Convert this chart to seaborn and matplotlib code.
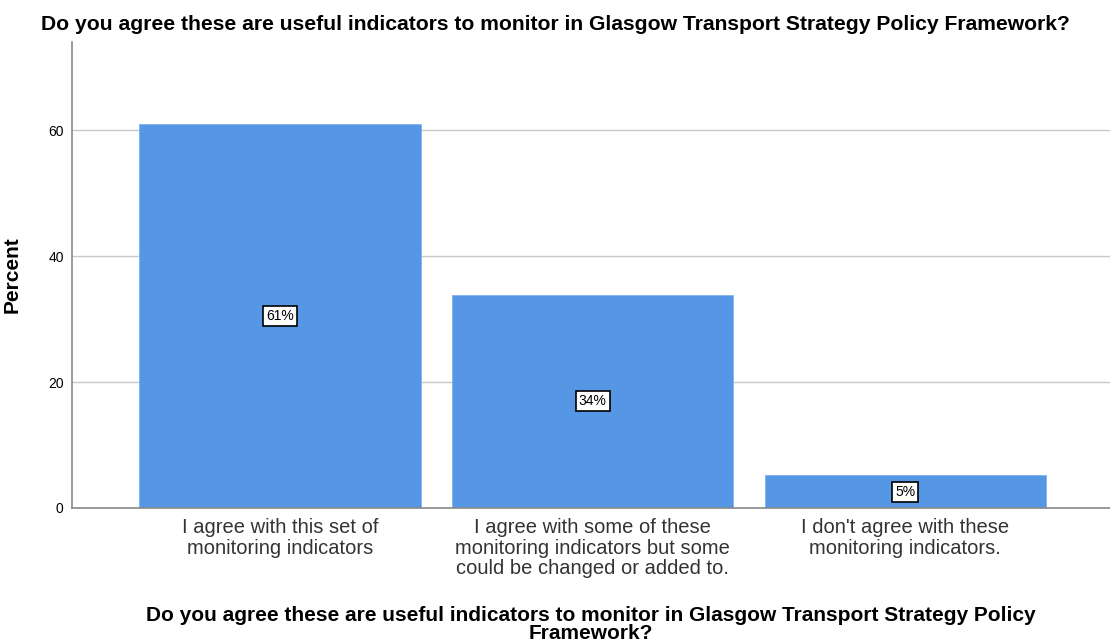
import pandas as pd
import matplotlib
matplotlib.use("Agg")
import matplotlib.pyplot as plt
import seaborn as sns

# Survey responses (percent)
categories = [
    "I agree with this set of\nmonitoring indicators",
    "I agree with some of these\nmonitoring indicators but some\ncould be changed or added to.",
    "I don't agree with these\nmonitoring indicators.",
]
percents = [60.9, 33.9, 5.2]
bar_labels = ["61%", "34%", "5%"]
yticks = [0, 20, 40, 60]

question = "Do you agree these are useful indicators to monitor in Glasgow Transport Strategy Policy Framework?"

df = pd.DataFrame({"answer": categories, "percent": percents})

sns.set_style("white")
plt.rcParams['font.family'] = ['Liberation Sans', 'DejaVu Sans']

fig = plt.figure(figsize=(11.1, 6.44), dpi=100)
ax = fig.add_axes([0.0649, 0.2112, 0.9351, 0.7236])

ax.set_axisbelow(True)
ax.yaxis.grid(True, color="#c8c8c8", linewidth=1)
sns.barplot(data=df, x="answer", y="percent", color="#5596e5", width=0.9,
            saturation=1, ax=ax, edgecolor="#7fb0ee", linewidth=0.6)

# boxed percentage labels at mid height of each bar
for i, (v, lab) in enumerate(zip(percents, bar_labels)):
    ax.text(i, v / 2, lab, ha="center", va="center", fontsize=10, color="black",
            bbox=dict(boxstyle="square,pad=0.22", fc="white", ec="black", lw=1.2))

ax.set_xlim(-0.665, 2.655)
ax.set_ylim(0, 74)
ax.set_yticks(yticks)
ax.tick_params(axis="y", labelsize=10, length=0, pad=6, labelcolor="black")
ax.tick_params(axis="x", labelsize=14.5, length=0, pad=7, labelcolor="#333333")
for t in ax.get_xticklabels():
    t.set_linespacing(1.12)

for s in ["top", "right"]:
    ax.spines[s].set_visible(False)
for s in ["left", "bottom"]:
    ax.spines[s].set_color("#888888")
    ax.spines[s].set_linewidth(1.2)

ax.set_ylabel("Percent", fontsize=15, fontweight="bold", color="black")
ax.yaxis.set_label_coords(-0.049, 0.5)
ax.set_xlabel("Do you agree these are useful indicators to monitor in Glasgow Transport Strategy Policy\nFramework?",
              fontsize=15, fontweight="bold", linespacing=0.92, color="black")
ax.xaxis.set_label_coords(0.5, -0.21)

fig.text(0.5, 1 - 24 / 644, question, fontsize=15.2, fontweight="bold",
         ha="center", va="center", color="black")

fig.savefig("out.png", dpi=100)
